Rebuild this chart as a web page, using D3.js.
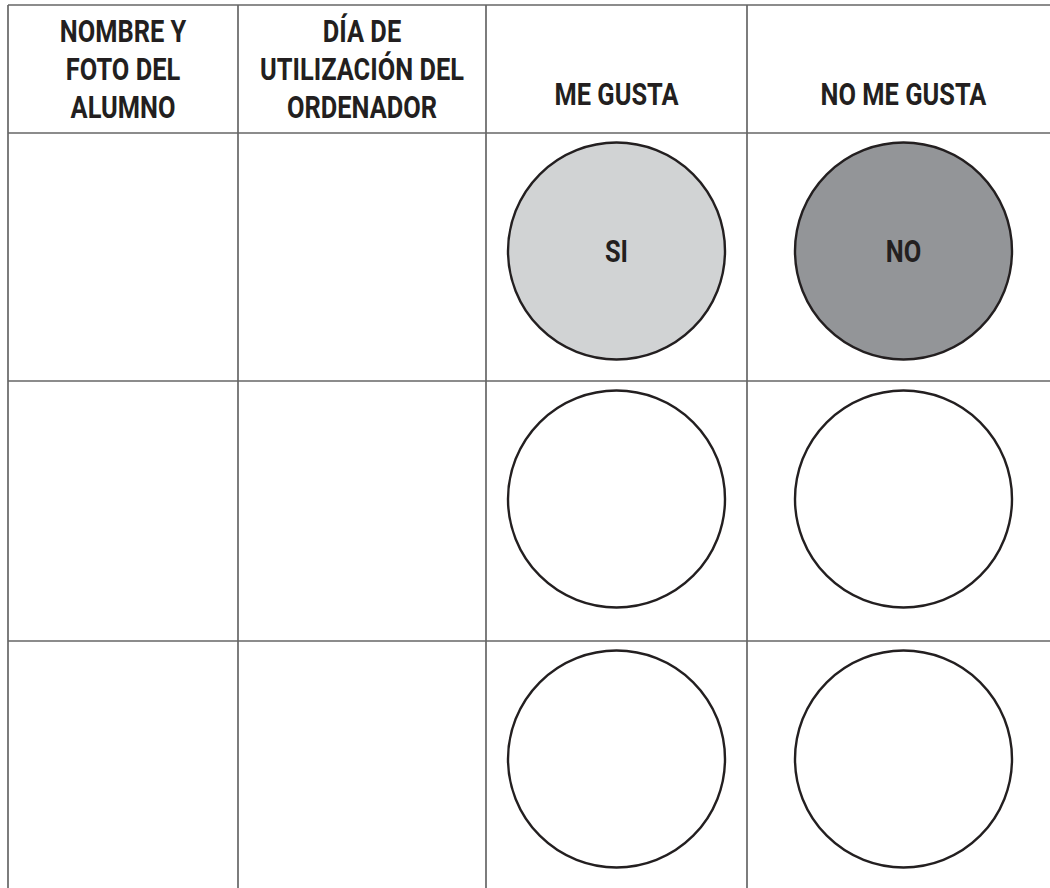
<!DOCTYPE html>
<html>
<head>
<meta charset="utf-8">
<script src="https://cdn.jsdelivr.net/npm/d3@7"></script>
<style>
  html, body { margin: 0; padding: 0; background: #fff; }
  svg { display: block; }
</style>
</head>
<body>
<div id="chart"></div>
<script>
// ---- data ----
const headers = [
  ["NOMBRE Y", "FOTO DEL", "ALUMNO"],
  ["DÍA DE", "UTILIZACIÓN DEL", "ORDENADOR"],
  ["ME GUSTA"],
  ["NO ME GUSTA"]
];
const rowIds = ["fila1", "fila2", "fila3"];
const meGustaLabels = ["SI", "", ""];
const noMeGustaLabels = ["NO", "", ""];
const meGustaFills = ["#d1d3d4", "#ffffff", "#ffffff"];
const noMeGustaFills = ["#939598", "#ffffff", "#ffffff"];

// ---- layout ----
const W = 1050, H = 888;
const colEdges = [8, 238, 486, 747, 1060];
const rowEdges = [5, 133, 381, 641, 901];
const lineColor = "#666666";
const font = "Roboto, 'Noto Sans', sans-serif";
const fontSize = 31, squeeze = 0.82;

const svg = d3.select("#chart").append("svg").attr("width", W).attr("height", H);

const x = d3.scaleOrdinal().domain(d3.range(headers.length)).range(colEdges.slice(0, -1));
const colW = i => colEdges[i + 1] - colEdges[i];
const y = d3.scaleOrdinal().domain(rowIds).range(rowEdges.slice(1, -1));

// grid lines
const g = svg.append("g").attr("stroke", lineColor).attr("stroke-width", 1.7);
g.selectAll("line.h").data(rowEdges).join("line").attr("class", "h")
  .attr("x1", colEdges[0]).attr("x2", W + 20)
  .attr("y1", d => d).attr("y2", d => d);
g.selectAll("line.v").data(colEdges).join("line").attr("class", "v")
  .attr("x1", d => d).attr("x2", d => d)
  .attr("y1", rowEdges[0]).attr("y2", H + 20);

// header text
const headerBaseline = 118, linePitch = 38;
const ht = svg.append("g").attr("font-family", font).attr("font-weight", "bold")
  .attr("font-size", fontSize).attr("fill", "#231f20").attr("text-anchor", "middle");
headers.forEach((lines, i) => {
  const cx = x(i) + colW(i) / 2;
  const singleShift = lines.length === 1 ? -13 : 0;
  ht.selectAll(null).data(lines).join("text")
    .attr("transform", (d, k) => `translate(${cx},${headerBaseline + singleShift - (lines.length - 1 - k) * linePitch}) scale(${squeeze},1)`)
    .text(d => d);
});

// circles
const r = 108.5;
const offsetY = 118;
function drawCol(colIdx, labels, fills) {
  const cx = x(colIdx) + colW(colIdx) / 2;
  const cg = svg.append("g");
  cg.selectAll("circle").data(rowIds).join("circle")
    .attr("cx", cx)
    .attr("cy", d => y(d) + offsetY)
    .attr("r", r)
    .attr("fill", (d, i) => fills[i])
    .attr("stroke", "#231f20")
    .attr("stroke-width", 2.4);
  cg.selectAll("text").data(rowIds).join("text")
    .attr("transform", d => `translate(${cx},${y(d) + offsetY}) scale(${squeeze},1)`)
    .attr("dy", "0.36em")
    .attr("text-anchor", "middle")
    .attr("font-family", font).attr("font-weight", "bold")
    .attr("font-size", fontSize).attr("fill", "#231f20")
    .text((d, i) => labels[i]);
}
drawCol(2, meGustaLabels, meGustaFills);
drawCol(3, noMeGustaLabels, noMeGustaFills);
</script>
</body>
</html>
